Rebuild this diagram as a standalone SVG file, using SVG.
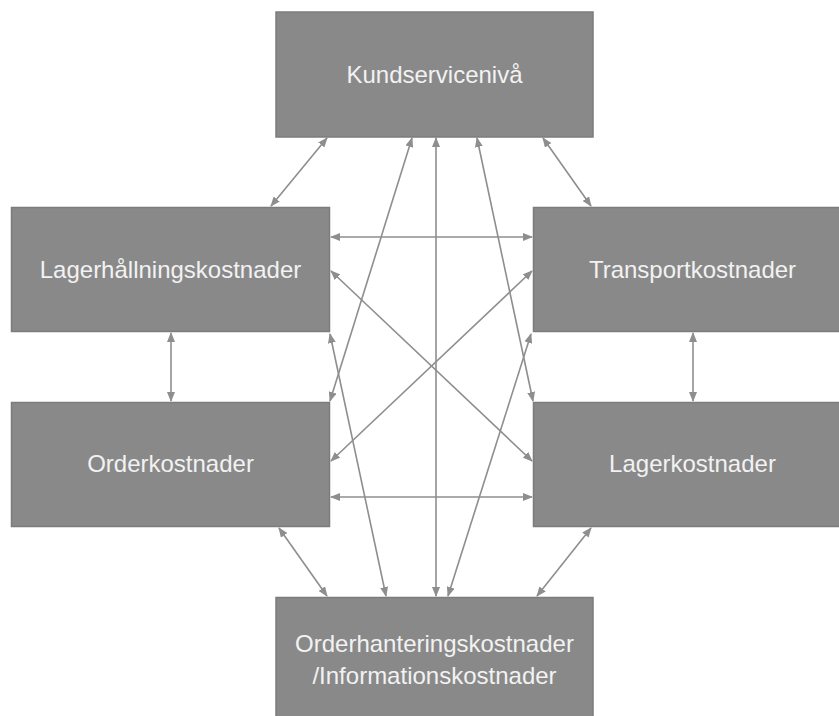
<svg xmlns="http://www.w3.org/2000/svg" width="839" height="716" viewBox="0 0 839 716">
  <style>
    .box { fill: #898989; stroke: #7c7c7c; stroke-width: 1.5; }
    .lbl { font-family: "Liberation Sans", Arial, sans-serif; font-size: 24px; fill: #f2f2f2; text-anchor: middle; }
    .link { stroke: #8e8e8e; stroke-width: 1.6; fill: none; marker-start: url(#head); marker-end: url(#head); }
  </style>
  <defs>
    <marker id="head" markerUnits="userSpaceOnUse" markerWidth="10" markerHeight="8" refX="9" refY="4" orient="auto-start-reverse" viewBox="0 0 10 8">
      <path d="M0,0 L10,4 L0,8 z" fill="#8e8e8e"/>
    </marker>
  </defs>
  <rect width="839" height="716" fill="#ffffff"/>

  <g id="connectors">
    <line class="link" x1="327" y1="138" x2="271" y2="206"/>
    <line class="link" x1="543" y1="138" x2="591" y2="206"/>
    <line class="link" x1="412" y1="138" x2="330" y2="401"/>
    <line class="link" x1="477" y1="138" x2="533" y2="401"/>
    <line class="link" x1="436" y1="138" x2="436" y2="596"/>
    <line class="link" x1="331" y1="237" x2="532" y2="237"/>
    <line class="link" x1="331" y1="497" x2="532" y2="497"/>
    <line class="link" x1="331" y1="271" x2="532" y2="461"/>
    <line class="link" x1="331" y1="461" x2="532" y2="271"/>
    <line class="link" x1="171" y1="333" x2="171" y2="401"/>
    <line class="link" x1="693" y1="333" x2="693" y2="401"/>
    <line class="link" x1="330" y1="334" x2="386" y2="596"/>
    <line class="link" x1="531" y1="334" x2="448" y2="596"/>
    <line class="link" x1="279" y1="528" x2="327" y2="596"/>
    <line class="link" x1="591" y1="528" x2="537" y2="596"/>
  </g>

  <g id="kundservice">
    <rect class="box" x="276" y="12" width="317" height="125"/>
    <text class="lbl" x="434.5" y="83">Kundservicenivå</text>
  </g>
  <g id="lagerhallning">
    <rect class="box" x="11.5" y="207.5" width="318" height="124"/>
    <text class="lbl" x="170.5" y="278">Lagerhållningskostnader</text>
  </g>
  <g id="transport">
    <rect class="box" x="533.5" y="207.5" width="318" height="124"/>
    <text class="lbl" x="692.5" y="278">Transportkostnader</text>
  </g>
  <g id="order">
    <rect class="box" x="11.5" y="402.5" width="318" height="124"/>
    <text class="lbl" x="170.5" y="472">Orderkostnader</text>
  </g>
  <g id="lager">
    <rect class="box" x="533.5" y="402.5" width="318" height="124"/>
    <text class="lbl" x="692.5" y="472">Lagerkostnader</text>
  </g>
  <g id="orderhantering">
    <rect class="box" x="276" y="597.5" width="317" height="130"/>
    <text class="lbl" x="434.5" y="652">Orderhanteringskostnader</text>
    <text class="lbl" x="434.5" y="684">/Informationskostnader</text>
  </g>
</svg>
